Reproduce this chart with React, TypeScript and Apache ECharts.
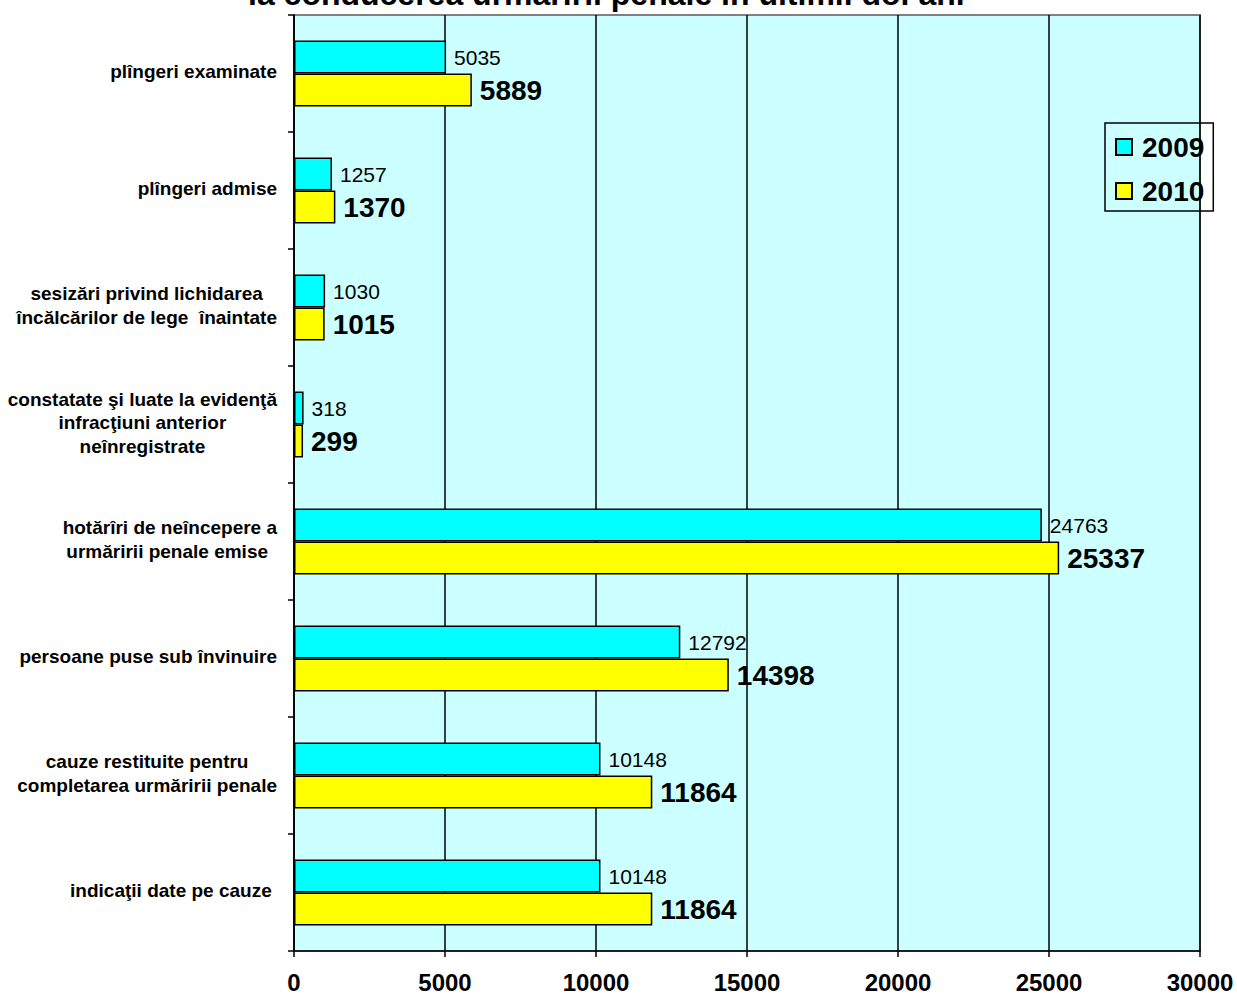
import React, { useEffect, useRef } from "react";
import * as echarts from "echarts";

const titleText = "la conducerea urmăririi penale în ultimii doi ani";

const categories = [
  "plîngeri examinate",
  "plîngeri admise",
  "sesizări privind lichidarea\nîncălcărilor de lege  înaintate",
  "constatate şi luate la evidenţă\ninfracţiuni anterior\nneînregistrate",
  "hotărîri de neîncepere a\nurmăririi penale emise ",
  "persoane puse sub învinuire",
  "cauze restituite pentru\ncompletarea urmăririi penale",
  "indicaţii date pe cauze ",
];

const seriesNames = ["2009", "2010"];
const values2009 = [5035, 1257, 1030, 318, 24763, 12792, 10148, 10148];
const values2010 = [5889, 1370, 1015, 299, 25337, 14398, 11864, 11864];

const xMin = 0;
const xMax = 30000;
const xInterval = 5000;

const FONT = "'Liberation Sans', Arial, Helvetica, sans-serif";

export default function App() {
  const ref = useRef<HTMLDivElement>(null);

  useEffect(() => {
    document.body.style.margin = "0";
    if (!ref.current) return;
    const chart = echarts.init(ref.current, undefined, { renderer: "svg" });
    chart.setOption({
      animation: false,
      backgroundColor: "#ffffff",
      title: {
        text: titleText,
        left: 248,
        top: -22,
        padding: 0,
        textStyle: { fontFamily: FONT, fontSize: 32, fontWeight: "bold", color: "#000" },
      },
      legend: {
        orient: "vertical",
        left: 1105,
        top: 123,
        padding: [10, 9, 6, 10],
        itemGap: 16,
        itemWidth: 16,
        itemHeight: 16,
        borderColor: "#000",
        borderWidth: 1.5,
        backgroundColor: "transparent",
        icon: "rect",
        data: seriesNames,
        textStyle: { fontFamily: FONT, fontSize: 28, fontWeight: "bold", color: "#000", padding: [0, 0, 0, 5] },
      },
      grid: {
        left: 294,
        right: 37,
        top: 15,
        bottom: 45,
        show: true,
        backgroundColor: "#CCFFFF",
        borderColor: "#808080",
        borderWidth: 2,
        containLabel: false,
        outerBoundsMode: "none",
      },
      xAxis: {
        type: "value",
        min: xMin,
        max: xMax,
        interval: xInterval,
        axisLine: { show: true, lineStyle: { color: "#000", width: 1.5 } },
        axisTick: { show: true, length: 6, lineStyle: { color: "#000", width: 1.5 } },
        splitLine: { show: true, lineStyle: { color: "#000", width: 1.5 } },
        axisLabel: {
          fontFamily: FONT,
          fontSize: 24,
          fontWeight: "bold",
          color: "#000",
          lineHeight: 20,
          margin: 21,
          formatter: (v: number) => String(v),
        },
      },
      yAxis: {
        type: "category",
        inverse: true,
        data: categories,
        axisLine: { show: true, lineStyle: { color: "#000", width: 1.5 } },
        axisTick: { show: true, length: 6, lineStyle: { color: "#000", width: 1.5 } },
        axisLabel: {
          margin: 17,
          align: "right",
          padding: [0, 0, 4, 0],
          formatter: (v: string) => v.split("\n").map((l) => `{c|${l}}`).join("\n"),
          rich: {
            c: {
              align: "center",
              fontFamily: FONT,
              fontSize: 19,
              fontWeight: "bold",
              color: "#000",
              lineHeight: 23.5,
            },
          },
        },
      },
      series: [
        {
          name: seriesNames[0],
          type: "bar",
          data: values2009,
          barWidth: 33,
          barGap: "0%",
          itemStyle: { color: "#00FFFF", borderColor: "#000", borderWidth: 1.5 },
          label: {
            show: true,
            position: "right",
            distance: 8,
            fontFamily: FONT,
            fontSize: 21,
            color: "#000",
          },
        },
        {
          name: seriesNames[1],
          type: "bar",
          data: values2010,
          barWidth: 33,
          barGap: "0%",
          itemStyle: { color: "#FFFF00", borderColor: "#000", borderWidth: 1.5 },
          label: {
            show: true,
            position: "right",
            distance: 8,
            fontFamily: FONT,
            fontSize: 28,
            fontWeight: "bold",
            color: "#000",
          },
        },
      ],
    });
    return () => chart.dispose();
  }, []);

  return <div ref={ref} style={{ width: 1237, height: 996 }} />;
}
